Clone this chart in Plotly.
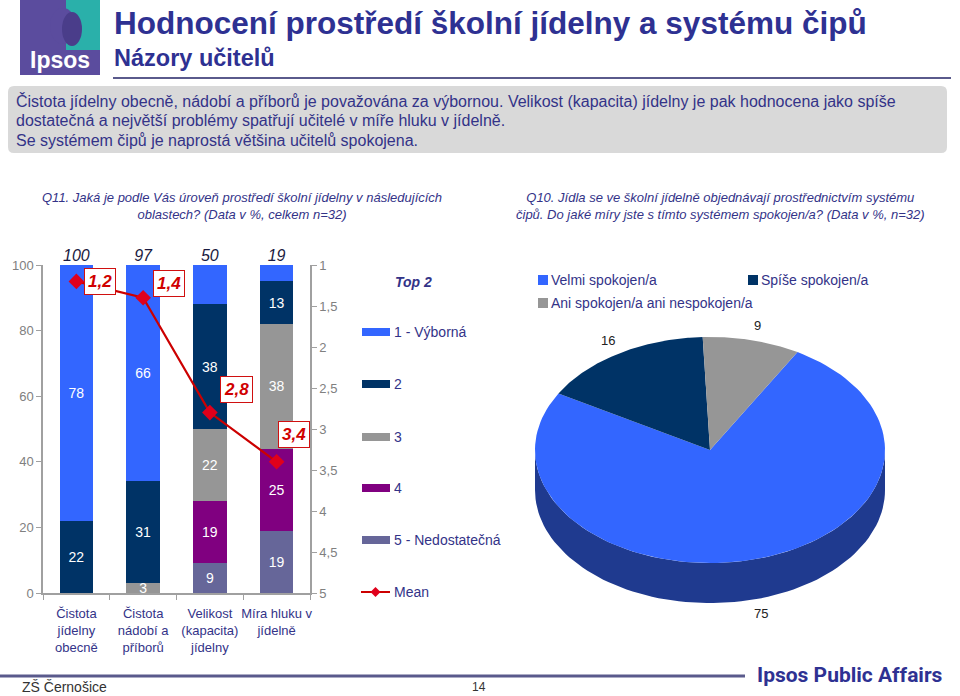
import numpy as np
import plotly.graph_objects as go

W, H = 960, 696

# Q11 - hodnocení prostředí jídelny (v %)
kategorie = ["Čistota<br>jídelny<br>obecně", "Čistota<br>nádobí a<br>příborů",
             "Velikost<br>(kapacita)<br>jídelny", "Míra hluku v<br>jídelně"]
znamky = ["1 - Výborná", "2", "3", "4", "5 - Nedostatečná"]
znamka_1 = [78, 66, 13, 6]
znamka_2 = [22, 31, 38, 13]
znamka_3 = [0, 3, 22, 38]
znamka_4 = [0, 0, 19, 25]
znamka_5 = [0, 0, 9, 19]
top2 = [100, 97, 50, 19]
prumer = [1.2, 1.4, 2.8, 3.4]

# Q10 - spokojenost se systémem čipů (v %)
spokojenost = ["Velmi spokojen/a", "Spíše spokojen/a", "Ani spokojen/a ani nespokojen/a"]
spokojenost_hodnoty = [75, 16, 9]

barvy = ["#3366FF", "#003366", "#969696", "#800080", "#666699"]
barvy_kolac = ["#3366FF", "#003366", "#969696"]
barvy_bok = ["#1F3A8F", "#001A38", "#5E5E5E"]
cervena = "#E0001B"
navy = "#2E3192"
text_navy = "#333388"
FONT = "Liberation Sans, Arial, sans-serif"


def px(x):
    return x / W


def py(y):
    return 1 - y / H


fig = go.Figure()

# %% skládaný sloupcový graf
serie = [znamka_1, znamka_2, znamka_3, znamka_4, znamka_5]
for i in [4, 3, 2, 1, 0]:
    fig.add_trace(go.Bar(x=kategorie, y=serie[i], name=znamky[i],
                         marker=dict(color=barvy[i], line=dict(width=0)),
                         text=[str(v) if v else "" for v in serie[i]],
                         textposition="inside", textangle=0, insidetextanchor="middle",
                         textfont=dict(color="white", size=14, family=FONT),
                         xaxis="x", yaxis="y"))

fig.add_trace(go.Scatter(x=kategorie, y=[100] * len(top2), mode="text",
                         text=["<i>" + str(v) + "</i>" for v in top2], textposition="top center",
                         textfont=dict(size=16, color="#1A1A40", family=FONT),
                         cliponaxis=False, xaxis="x", yaxis="y"))

fig.add_trace(go.Scatter(x=kategorie, y=prumer, mode="lines+markers", name="Mean",
                         line=dict(color="#CC0000", width=2.2),
                         marker=dict(symbol="diamond", size=12, color=cervena),
                         cliponaxis=False, xaxis="x", yaxis="y2"))

posuny = [(24, 0), (26, 14), (27, 23), (17, 27)]
for k, v, (dx, dy) in zip(kategorie, prumer, posuny):
    fig.add_annotation(x=k, y=v, xref="x", yref="y2", xshift=dx, yshift=dy,
                       text="<b><i>" + f"{v:.1f}".replace(".", ",") + "</i></b>",
                       showarrow=False, bgcolor="white", bordercolor="#D01010",
                       borderwidth=1, borderpad=3,
                       font=dict(size=17, color="#D00000", family=FONT))

# %% 3D koláč (elipsa)
ry = 0.646
tloustka = 0.229
start = 30.0
celkem = sum(spokojenost_hodnoty)
uhly = []
a = start
for v in spokojenost_hodnoty:
    b = a + 360.0 * v / celkem
    uhly.append((a, b))
    a = b

# bok koláče (viditelná přední strana 90°..270°)
for (a0, a1), c in zip(uhly, barvy_bok):
    for posun in [0, 360, -360]:
        lo = max(a0 + posun, 90)
        hi = min(a1 + posun, 270)
        if hi > lo:
            t = np.radians(np.linspace(lo, hi, 80))
            xs = np.concatenate([np.sin(t), np.sin(t[::-1])]).tolist()
            ys = np.concatenate([ry * np.cos(t), ry * np.cos(t[::-1]) - tloustka]).tolist()
            fig.add_trace(go.Scatter(x=xs, y=ys, fill="toself", fillcolor=c, mode="lines",
                                     line=dict(width=0, color=c), xaxis="x2", yaxis="y3",
                                     hoverinfo="skip"))

for (a0, a1), c, v in zip(uhly, barvy_kolac, spokojenost_hodnoty):
    t = np.radians(np.linspace(a0, a1, 120))
    xs = [0.0] + np.sin(t).tolist() + [0.0]
    ys = [0.0] + (ry * np.cos(t)).tolist() + [0.0]
    fig.add_trace(go.Scatter(x=xs, y=ys, fill="toself", fillcolor=c, mode="lines",
                             line=dict(width=0, color=c), xaxis="x2", yaxis="y3",
                             hoverinfo="skip"))
    m = np.radians((a0 + a1) / 2)
    lx = float(1.13 * np.sin(m))
    ly = float(1.13 * ry * np.cos(m) - (tloustka if np.cos(m) < 0 else 0))
    fig.add_annotation(x=lx, y=ly, xref="x2", yref="y3", text=str(v), showarrow=False,
                       font=dict(size=13, color="#222222", family=FONT))

# %% legenda sloupců (ručně)
fig.add_annotation(x=px(393), y=py(282), xref="paper", yref="paper", xanchor="left",
                   yanchor="middle", text="<b><i>Top 2</i></b>", showarrow=False,
                   font=dict(size=14, color=text_navy, family=FONT))
radky = [332, 384, 437, 488, 540]
for r, c, n in zip(radky, barvy, znamky):
    fig.add_shape(type="rect", xref="paper", yref="paper", x0=px(362), x1=px(390),
                  y0=py(r + 4), y1=py(r - 4), fillcolor=c, line=dict(width=0))
    fig.add_annotation(x=px(392), y=py(r), xref="paper", yref="paper", xanchor="left",
                       yanchor="middle", text=n, showarrow=False,
                       font=dict(size=14, color=text_navy, family=FONT))
fig.add_shape(type="line", xref="paper", yref="paper", x0=px(361), x1=px(390),
              y0=py(592), y1=py(592), line=dict(color="#CC0000", width=2))
fig.add_shape(type="path", xref="paper", yref="paper",
              path=f"M {px(375.5)},{py(587)} L {px(380.5)},{py(592)} L {px(375.5)},{py(597)} L {px(370.5)},{py(592)} Z",
              fillcolor=cervena, line=dict(width=0))
fig.add_annotation(x=px(392), y=py(592), xref="paper", yref="paper", xanchor="left",
                   yanchor="middle", text="Mean", showarrow=False,
                   font=dict(size=14, color=text_navy, family=FONT))

# %% legenda koláče
leg_poz = [(538, 280), (748, 280), (538, 303)]
for (lx, ly), c, n in zip(leg_poz, barvy_kolac, spokojenost):
    fig.add_shape(type="rect", xref="paper", yref="paper", x0=px(lx), x1=px(lx + 10),
                  y0=py(ly + 5), y1=py(ly - 5), fillcolor=c, line=dict(width=0))
    fig.add_annotation(x=px(lx + 11), y=py(ly), xref="paper", yref="paper", xanchor="left",
                       yanchor="middle", text=n, showarrow=False,
                       font=dict(size=14, color=text_navy, family=FONT))

# %% hlavička
fig.add_shape(type="rect", xref="paper", yref="paper", x0=px(20), x1=px(100),
              y0=py(75), y1=py(0), fillcolor="#5B4C9E", line=dict(width=0))
fig.add_shape(type="rect", xref="paper", yref="paper", x0=px(66), x1=px(100),
              y0=py(50), y1=py(0), fillcolor="#2AB0AA", line=dict(width=0))
fig.add_shape(type="circle", xref="paper", yref="paper", x0=px(50), x1=px(76),
              y0=py(44), y1=py(8), fillcolor="#5B4C9E", line=dict(width=0))
fig.add_shape(type="circle", xref="paper", yref="paper", x0=px(62), x1=px(82),
              y0=py(46), y1=py(12), fillcolor="#4A3D8A", line=dict(width=0))
fig.add_annotation(x=px(60), y=py(60), xref="paper", yref="paper", text="<b>Ipsos</b>",
                   xanchor="center", yanchor="middle", showarrow=False,
                   font=dict(size=23, color="white", family=FONT))
fig.add_annotation(x=px(112), y=py(23), xref="paper", yref="paper", xanchor="left",
                   yanchor="middle",
                   text="<b>Hodnocení prostředí školní jídelny a systému čipů</b>",
                   showarrow=False, font=dict(size=31.5, color=navy, family=FONT))
fig.add_annotation(x=px(112), y=py(58), xref="paper", yref="paper", xanchor="left",
                   yanchor="middle", text="<b>Názory učitelů</b>", showarrow=False,
                   font=dict(size=23.5, color=navy, family=FONT))
fig.add_shape(type="line", xref="paper", yref="paper", x0=px(113), x1=px(951),
              y0=py(78), y1=py(78), line=dict(color="#5A5A8C", width=2))

fig.add_shape(type="path", xref="paper", yref="paper",
              path=(f"M {px(14)},{py(86)} L {px(941)},{py(86)} Q {px(947)},{py(86)} {px(947)},{py(92)} "
                    f"L {px(947)},{py(147)} Q {px(947)},{py(153)} {px(941)},{py(153)} "
                    f"L {px(14)},{py(153)} Q {px(8)},{py(153)} {px(8)},{py(147)} "
                    f"L {px(8)},{py(92)} Q {px(8)},{py(86)} {px(14)},{py(86)} Z"),
              fillcolor="#D9D9D9", line=dict(width=0))
shrnuti = ["Čistota jídelny obecně, nádobí a příborů je považována za výbornou. Velikost (kapacita) jídelny je pak hodnocena jako spíše",
           "dostatečná a největší problémy spatřují učitelé v míře hluku v jídelně.",
           "Se systémem čipů je naprostá většina učitelů spokojena."]
for i, s in enumerate(shrnuti):
    fig.add_annotation(x=px(14), y=py(101 + 19.5 * i), xref="paper", yref="paper",
                       xanchor="left", yanchor="middle", text=s, showarrow=False,
                       font=dict(size=16, color=text_navy, family=FONT))

fig.add_annotation(x=px(242), y=py(206), xref="paper", yref="paper",
                   xanchor="center", yanchor="middle",
                   text="<i>Q11. Jaká je podle Vás úroveň prostředí školní jídelny v následujících<br>oblastech? (Data v %, celkem n=32)</i>",
                   showarrow=False, font=dict(size=13, color=text_navy, family=FONT))
fig.add_annotation(x=px(720), y=py(206), xref="paper", yref="paper",
                   xanchor="center", yanchor="middle",
                   text="<i>Q10. Jídla se ve školní jídelně objednávají prostřednictvím systému<br>čipů. Do jaké míry jste s tímto systémem spokojen/a? (Data v %, n=32)</i>",
                   showarrow=False, font=dict(size=13, color=text_navy, family=FONT))

# %% patička
fig.add_shape(type="line", xref="paper", yref="paper", x0=0, x1=px(745),
              y0=py(676), y1=py(676), line=dict(color="#5A5A8C", width=3))
fig.add_annotation(x=px(20), y=py(687), xref="paper", yref="paper", xanchor="left",
                   yanchor="middle", text="ZŠ Černošice", showarrow=False,
                   font=dict(size=14, color="#333333", family=FONT))
fig.add_annotation(x=px(479), y=py(687), xref="paper", yref="paper", text="14",
                   xanchor="center", yanchor="middle", showarrow=False,
                   font=dict(size=12, color="#333333", family=FONT))
fig.add_annotation(x=px(850), y=py(675), xref="paper", yref="paper",
                   xanchor="center", yanchor="middle",
                   text="<b>Ipsos Public Affairs</b>", showarrow=False,
                   font=dict(size=21, color=navy, family="Liberation Sans Narrow, Roboto, sans-serif"))

osa = dict(showgrid=False, zeroline=False, linecolor="#A0A0A0", linewidth=1.5,
           ticks="outside", tickcolor="#A0A0A0", ticklen=5,
           tickfont=dict(size=13, color="#808080", family=FONT))

fig.update_layout(
    width=W, height=H, margin=dict(l=0, r=0, t=0, b=0, autoexpand=False),
    paper_bgcolor="white", plot_bgcolor="rgba(0,0,0,0)", showlegend=False,
    separators=", ", barmode="stack", bargap=0.5,
    uniformtext=dict(mode="show", minsize=14),
    xaxis=dict(domain=[px(43), px(310)], anchor="y",
               showline=True, linecolor="#A0A0A0", linewidth=1.5,
               ticks="outside", tickson="boundaries", tickcolor="#A0A0A0", ticklen=5,
               tickangle=0, showgrid=False, ticklabelstandoff=8,
               tickfont=dict(size=13, color=text_navy, family=FONT)),
    yaxis=dict(domain=[py(593), py(265)], range=[0, 100], tickvals=[0, 20, 40, 60, 80, 100],
               showline=True, anchor="x", **osa),
    yaxis2=dict(overlaying="y", side="right", anchor="x", range=[5, 1],
                tickvals=[1, 1.5, 2, 2.5, 3, 3.5, 4, 4.5, 5], showline=True, **osa),
    xaxis2=dict(domain=[px(525), px(895)], range=[-185 / 175, 185 / 175], anchor="y3",
                visible=False),
    yaxis3=dict(domain=[py(620), py(320)], range=[-170 / 175, 130 / 175], anchor="x2",
                visible=False),
)

fig.write_html("out.html", config={"displayModeBar": False},
               post_script="document.body.style.margin='0px';")
